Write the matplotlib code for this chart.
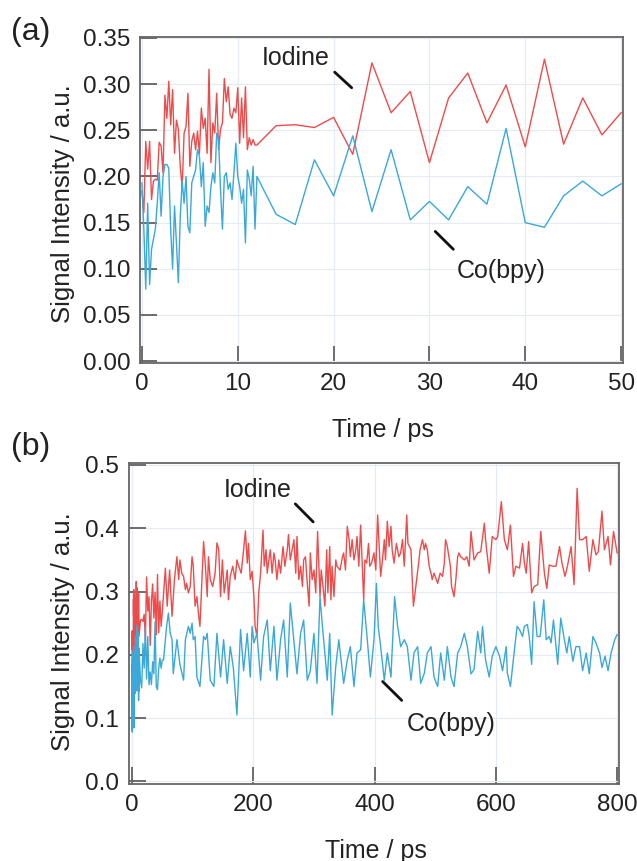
import numpy as np
import matplotlib.pyplot as plt
from matplotlib.ticker import FormatStrFormatter

plt.rcParams['font.family'] = ['Liberation Sans', 'DejaVu Sans']

RED = '#ee4b4b'
BLUE = '#3aa8d8'

# short delay: 0-12 ps every 0.2 ps, then every 2 ps up to 50 ps
t_a = np.concatenate([np.round(np.arange(0, 12, 0.2), 1), np.arange(12, 51, 2)])

iodine_a = [0.184, 0.161, 0.238, 0.208, 0.238, 0.175, 0.195, 0.197, 0.196, 0.237,
            0.233, 0.204, 0.288, 0.263, 0.303, 0.256, 0.294, 0.225, 0.261, 0.251,
            0.211, 0.188, 0.247, 0.254, 0.290, 0.211, 0.238, 0.247, 0.229, 0.249,
            0.225, 0.274, 0.252, 0.263, 0.225, 0.316, 0.215, 0.258, 0.247, 0.290,
            0.229, 0.251, 0.258, 0.306, 0.281, 0.297, 0.267, 0.263, 0.274, 0.269,
            0.296, 0.236, 0.285, 0.242, 0.297, 0.229, 0.242, 0.234, 0.240, 0.234,
            0.234, 0.255, 0.256, 0.253, 0.264, 0.224, 0.323, 0.269, 0.292, 0.215,
            0.285, 0.312, 0.258, 0.299, 0.232, 0.327, 0.235, 0.285, 0.245, 0.269]

cobpy_a = [0.193, 0.143, 0.078, 0.171, 0.083, 0.121, 0.132, 0.143, 0.171, 0.204,
           0.157, 0.200, 0.213, 0.213, 0.209, 0.143, 0.100, 0.168, 0.128, 0.085,
           0.157, 0.195, 0.171, 0.200, 0.146, 0.139, 0.193, 0.200, 0.207, 0.229,
           0.222, 0.189, 0.215, 0.146, 0.168, 0.161, 0.189, 0.204, 0.193, 0.247,
           0.240, 0.186, 0.143, 0.200, 0.204, 0.186, 0.193, 0.175, 0.204, 0.236,
           0.200, 0.189, 0.171, 0.186, 0.128, 0.207, 0.197, 0.179, 0.211, 0.143,
           0.200, 0.159, 0.148, 0.218, 0.179, 0.244, 0.162, 0.229, 0.153, 0.173,
           0.153, 0.189, 0.170, 0.252, 0.150, 0.145, 0.179, 0.195, 0.179, 0.192]

# long delay, after 50 ps
t_iodine_b = [55, 58, 62, 66, 70, 74, 77, 79, 82, 85,
              88, 90, 93, 96, 99, 101, 104, 107, 110, 112,
              118, 121, 124, 126, 129, 133, 137, 140, 143, 146,
              149, 152, 157, 159, 162, 166, 170, 173, 176, 180,
              184, 187, 190, 192, 195, 198, 201, 203, 206, 209,
              212, 216, 218, 221, 223, 225, 228, 231, 234, 236,
              239, 242, 245, 249, 252, 256, 258, 261, 267, 270,
              272, 275, 278, 281, 283, 286, 289, 292, 294, 297,
              300, 303, 306, 310, 312, 315, 318, 321, 323, 326,
              328, 330, 333, 336, 338, 343, 347, 349, 352, 355,
              358, 360, 363, 366, 369, 371, 374, 377, 380, 382,
              384, 387, 390, 392, 395, 399, 402, 405, 407, 410,
              413, 416, 418, 421, 424, 427, 429, 432, 436, 440,
              443, 446, 449, 453, 455, 460, 464, 468, 472, 475,
              479, 482, 484, 487, 490, 493, 495, 498, 504, 508,
              512, 515, 517, 520, 525, 527, 531, 534, 537, 539,
              542, 548, 552, 556, 559, 564, 570, 575, 581, 583,
              589, 594, 600, 603, 609, 614, 619, 624, 629, 633,
              639, 644, 647, 650, 654, 659, 663, 669, 674, 680,
              684, 688, 694, 699, 705, 709, 714, 718, 724, 729,
              734, 738, 743, 749, 754, 760, 765, 769, 775, 779,
              785, 789, 794, 800]
iodine_b = [0.337, 0.277, 0.334, 0.261, 0.319, 0.355, 0.319, 0.350, 0.329, 0.324,
            0.303, 0.313, 0.298, 0.308, 0.355, 0.340, 0.277, 0.292, 0.261, 0.245,
            0.379, 0.340, 0.292, 0.355, 0.319, 0.308, 0.329, 0.377, 0.366, 0.292,
            0.350, 0.298, 0.334, 0.287, 0.324, 0.340, 0.319, 0.350, 0.340, 0.329,
            0.366, 0.396, 0.345, 0.376, 0.319, 0.332, 0.292, 0.245, 0.229, 0.298,
            0.329, 0.397, 0.340, 0.366, 0.329, 0.345, 0.366, 0.329, 0.361, 0.350,
            0.319, 0.350, 0.329, 0.371, 0.340, 0.366, 0.390, 0.350, 0.382, 0.329,
            0.387, 0.319, 0.340, 0.308, 0.350, 0.355, 0.313, 0.277, 0.361, 0.319,
            0.334, 0.298, 0.395, 0.292, 0.334, 0.308, 0.277, 0.366, 0.298, 0.371,
            0.287, 0.340, 0.292, 0.350, 0.340, 0.334, 0.355, 0.361, 0.334, 0.403,
            0.382, 0.355, 0.382, 0.350, 0.366, 0.387, 0.340, 0.405, 0.334, 0.287,
            0.350, 0.345, 0.376, 0.340, 0.345, 0.361, 0.334, 0.421, 0.382, 0.324,
            0.350, 0.382, 0.350, 0.411, 0.371, 0.403, 0.366, 0.345, 0.376, 0.355,
            0.361, 0.382, 0.340, 0.421, 0.376, 0.366, 0.277, 0.308, 0.340, 0.366,
            0.382, 0.366, 0.376, 0.366, 0.340, 0.329, 0.319, 0.329, 0.313, 0.329,
            0.324, 0.345, 0.382, 0.371, 0.340, 0.308, 0.292, 0.319, 0.355, 0.361,
            0.355, 0.350, 0.355, 0.340, 0.395, 0.350, 0.361, 0.363, 0.408, 0.382,
            0.329, 0.387, 0.382, 0.387, 0.442, 0.382, 0.366, 0.405, 0.324, 0.340,
            0.337, 0.376, 0.345, 0.329, 0.379, 0.298, 0.308, 0.311, 0.395, 0.329,
            0.305, 0.342, 0.340, 0.340, 0.371, 0.345, 0.324, 0.340, 0.371, 0.311,
            0.463, 0.382, 0.382, 0.387, 0.332, 0.382, 0.358, 0.363, 0.427, 0.366,
            0.387, 0.342, 0.395, 0.361]

t_cobpy_b = [52, 57, 60, 63, 66, 68, 74, 79, 85, 88,
             93, 96, 99, 101, 104, 107, 112, 118, 121, 124,
             129, 135, 140, 146, 151, 157, 162, 167, 173, 179,
             184, 190, 195, 198, 201, 206, 212, 217, 223, 228,
             234, 239, 245, 250, 256, 261, 272, 278, 283, 289,
             294, 300, 305, 310, 314, 316, 322, 326, 330, 336,
             341, 349, 355, 360, 366, 371, 377, 382, 388, 393,
             399, 403, 406, 410, 416, 421, 427, 433, 438, 443,
             449, 454, 460, 465, 471, 476, 482, 487, 493, 498,
             504, 509, 515, 520, 526, 531, 537, 542, 548, 553,
             559, 564, 570, 575, 578, 583, 589, 594, 600, 606,
             611, 617, 619, 624, 630, 635, 639, 644, 647, 652,
             655, 659, 663, 668, 673, 679, 683, 688, 691, 695,
             702, 707, 713, 717, 721, 727, 732, 738, 743, 749,
             754, 760, 765, 771, 775, 780, 785, 790, 796, 800]
cobpy_b = [0.192, 0.245, 0.266, 0.234, 0.224, 0.170, 0.224, 0.185, 0.160, 0.224,
           0.245, 0.234, 0.250, 0.224, 0.229, 0.165, 0.150, 0.229, 0.224, 0.234,
           0.160, 0.150, 0.234, 0.165, 0.224, 0.155, 0.213, 0.180, 0.105, 0.240,
           0.175, 0.234, 0.165, 0.245, 0.219, 0.234, 0.160, 0.229, 0.255, 0.175,
           0.245, 0.160, 0.224, 0.255, 0.165, 0.282, 0.170, 0.234, 0.255, 0.160,
           0.175, 0.234, 0.155, 0.292, 0.245, 0.224, 0.160, 0.234, 0.105, 0.182,
           0.224, 0.155, 0.192, 0.213, 0.150, 0.203, 0.208, 0.287, 0.224, 0.165,
           0.224, 0.313, 0.245, 0.213, 0.160, 0.203, 0.165, 0.292, 0.245, 0.213,
           0.224, 0.213, 0.160, 0.203, 0.213, 0.155, 0.171, 0.203, 0.213, 0.165,
           0.150, 0.203, 0.160, 0.213, 0.165, 0.150, 0.203, 0.213, 0.234, 0.213,
           0.170, 0.177, 0.237, 0.203, 0.245, 0.192, 0.165, 0.198, 0.213, 0.198,
           0.175, 0.213, 0.171, 0.150, 0.203, 0.245, 0.240, 0.229, 0.245, 0.248,
           0.229, 0.185, 0.284, 0.229, 0.229, 0.287, 0.224, 0.229, 0.219, 0.255,
           0.185, 0.258, 0.224, 0.203, 0.229, 0.190, 0.213, 0.213, 0.175, 0.203,
           0.170, 0.229, 0.219, 0.203, 0.180, 0.198, 0.175, 0.203, 0.224, 0.232]


def style(ax, xlim, ylim, xticks, yticks, yfmt):
    ax.set_xlim(xlim)
    ax.set_ylim(ylim)
    ax.set_xticks(xticks)
    ax.set_yticks(yticks)
    ax.yaxis.set_major_formatter(FormatStrFormatter(yfmt))
    ax.tick_params(direction='in', length=12, width=1.2, color='#555555',
                   labelsize=17.5, pad=7, labelcolor='#222222')
    for s in ax.spines.values():
        s.set_color('#666666')
        s.set_linewidth(1.3)
    ax.grid(True, color='#e4ebf3', lw=0.8)
    ax.set_axisbelow(True)


def callout(ax, text, xy, xytext, tx, ty):
    ax.annotate('', xy=xy, xytext=xytext,
                arrowprops=dict(arrowstyle='-', color='#111111', lw=2.0))
    ax.text(tx, ty, text, fontsize=18, ha='left', va='center', color='#222222')


fig = plt.figure(figsize=(6.37, 8.61), dpi=100)
ax1 = fig.add_axes([0.2198, 0.5784, 0.7575, 0.3786])
ax2 = fig.add_axes([0.2025, 0.0894, 0.7692, 0.3728])

ax1.plot(t_a, iodine_a, color=RED, lw=1.0)
ax1.plot(t_a, cobpy_a, color=BLUE, lw=1.0)
style(ax1, (-0.2, 50.15), (-0.002, 0.351), np.arange(0, 51, 10),
      np.arange(0, 0.36, 0.05), '%.2f')
callout(ax1, 'Iodine', (22.1, 0.294), (19.9, 0.315), 12.5, 0.328)
callout(ax1, 'Co(bpy)', (32.7, 0.119), (30.4, 0.1426), 32.9, 0.098)

tb_i = np.concatenate([t_a, t_iodine_b])
tb_c = np.concatenate([t_a, t_cobpy_b])
ax2.plot(tb_i, iodine_a + iodine_b, color=RED, lw=1.0)
ax2.plot(tb_c, cobpy_a + cobpy_b, color=BLUE, lw=1.0)
style(ax2, (-5, 803), (-0.004, 0.503), np.arange(0, 801, 200),
      np.arange(0, 0.51, 0.1), '%.1f')
callout(ax2, 'Iodine', (302, 0.4069), (266, 0.4416), 152, 0.46)
callout(ax2, 'Co(bpy)', (448, 0.125), (410, 0.161), 453, 0.0915)

for ax, lx, ly, ty in [(ax1, -0.135, 0.49, -0.170), (ax2, -0.110, 0.475, -0.170)]:
    ax.set_ylabel('Signal Intensity / a.u.', fontsize=18.5, color='#222222')
    ax.set_xlabel('Time / ps', fontsize=18, color='#222222')
    ax.yaxis.set_label_coords(lx, ly)
    ax.xaxis.set_label_coords(0.503, ty)

fig.text(11 / 637, 1 - 32 / 861, '(a)', fontsize=23, va='center', color='#222222')
fig.text(11 / 637, 1 - 447 / 861, '(b)', fontsize=23, va='center', color='#222222')

fig.savefig('out.png', dpi=100)
